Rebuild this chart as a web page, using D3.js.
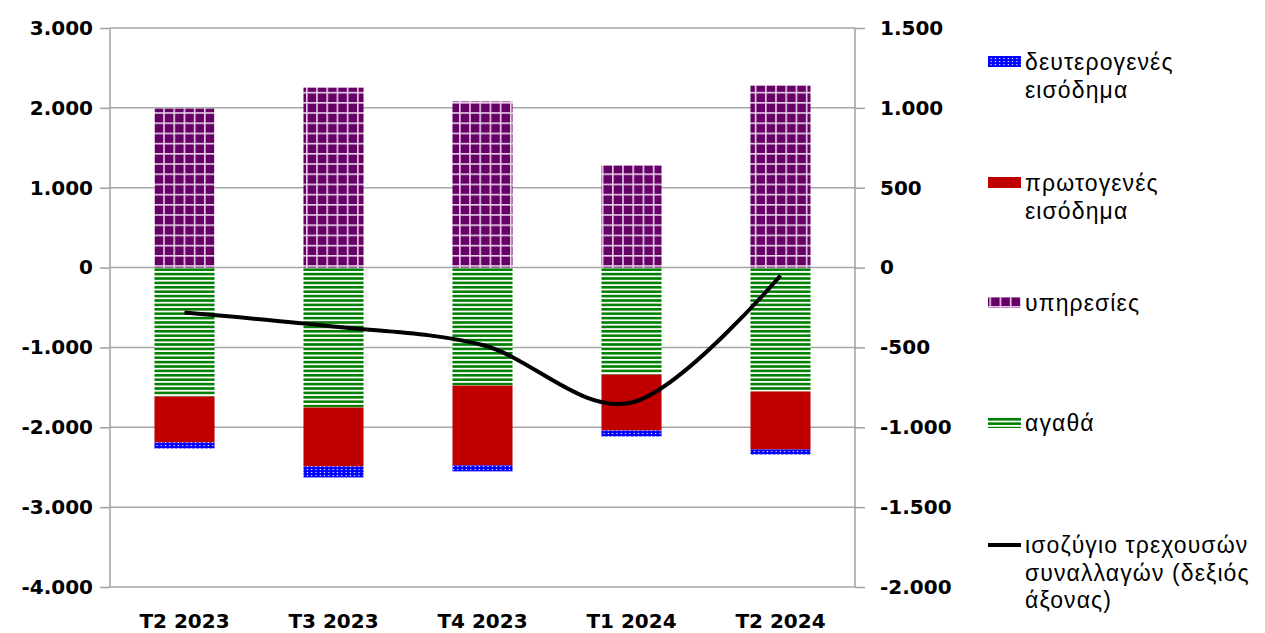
<!DOCTYPE html>
<html><head><meta charset="utf-8">
<script src="https://cdn.jsdelivr.net/npm/d3@7"></script>
<style>body{margin:0;background:#fff}svg{display:block}</style>
</head><body>
<script>
const categories = ["Τ2 2023","Τ3 2023","Τ4 2023","Τ1 2024","Τ2 2024"];
const goods      = [-1615,-1752,-1477,-1340,-1552];
const primary    = [-575,-738,-1000,-700,-726];
const secondary  = [-75,-138,-75,-75,-62];
const services   = [1990,2253,2080,1277,2278];
const currentAccount = [-282,-369,-485,-845,-50];
const leftTicks  = [3000,2000,1000,0,-1000,-2000,-3000,-4000];
const rightTicks = [1500,1000,500,0,-500,-1000,-1500,-2000];
const seriesNames = {
  secondary:["δευτερογενές","εισόδημα"],
  primary:["πρωτογενές","εισόδημα"],
  services:["υπηρεσίες"],
  goods:["αγαθά"],
  line:["ισοζύγιο τρεχουσών","συναλλαγών (δεξιός","άξονας)"]
};

const W=1265,H=633;
const m={top:28,bottom:587,left:110,right:855};
const svg=d3.select("body").append("svg").attr("width",W).attr("height",H);
const loc=d3.formatLocale({decimal:",",thousands:".",grouping:[3],currency:["","€"],minus:"-"});
const fmt=loc.format(",d");

const x=d3.scaleBand().domain(categories).range([m.left,m.right]).paddingInner(0.597).paddingOuter(0.2985);
const yL=d3.scaleLinear().domain([-4000,3000]).range([m.bottom,m.top]);
const yR=d3.scaleLinear().domain([-2000,1500]).range([m.bottom,m.top]);

// patterns
const defs=svg.append("defs");
const pS=defs.append("pattern").attr("id","pServices").attr("patternUnits","userSpaceOnUse").attr("width",10.2).attr("height",10.2);
pS.append("rect").attr("width",10.2).attr("height",10.2).attr("fill","#e8cfe8");
pS.append("rect").attr("x",1.6).attr("y",1.6).attr("width",8.6).attr("height",8.6).attr("fill","#660066");
const pG=defs.append("pattern").attr("id","pGoods").attr("patternUnits","userSpaceOnUse").attr("width",8).attr("height",4.4);
pG.append("rect").attr("width",8).attr("height",4.4).attr("fill","#ffffff");
pG.append("rect").attr("y",0).attr("width",8).attr("height",2.6).attr("fill","#008000");
const pB=defs.append("pattern").attr("id","pSecondary").attr("patternUnits","userSpaceOnUse").attr("width",4.3).attr("height",3);
pB.append("rect").attr("width",4.3).attr("height",3).attr("fill","#0000ff");
pB.append("rect").attr("x",1.5).attr("y",1).attr("width",1.2).attr("height",1.1).attr("fill","#ffffff");
const fills={goods:"url(#pGoods)",primary:"#c00000",secondary:"url(#pSecondary)",services:"url(#pServices)"};

// gridlines
svg.append("g").selectAll("line").data(leftTicks).join("line")
  .attr("x1",m.left).attr("x2",m.right).attr("y1",d=>yL(d)).attr("y2",d=>yL(d))
  .attr("stroke","#a6a6a6").attr("stroke-width",1.5);

// bars
const rows=categories.map((c,i)=>({cat:c,goods:goods[i],primary:primary[i],secondary:secondary[i],services:services[i]}));
const keys=["goods","primary","secondary","services"];
const stack=d3.stack().keys(keys).offset(d3.stackOffsetDiverging)(rows);
svg.append("g").selectAll("g").data(stack).join("g").attr("fill",d=>fills[d.key])
  .selectAll("rect").data(d=>d).join("rect")
  .attr("x",d=>x(d.data.cat)).attr("width",x.bandwidth())
  .attr("y",d=>yL(Math.max(d[0],d[1]))).attr("height",d=>Math.abs(yL(d[0])-yL(d[1])));

// axes
const axL=svg.append("g").attr("transform",`translate(${m.left},0)`)
  .call(d3.axisLeft(yL).tickValues(leftTicks).tickFormat(fmt).tickSize(10).tickPadding(7));
const axR=svg.append("g").attr("transform",`translate(${m.right},0)`)
  .call(d3.axisRight(yR).tickValues(rightTicks).tickFormat(fmt).tickSize(10).tickPadding(15));
[axL,axR].forEach(a=>{
  a.selectAll("path,line").attr("stroke","#a0a0a0").attr("stroke-width",1.5);
  a.select(".domain").attr("d",`M0,${m.top}V${m.bottom}`);
  a.selectAll("text").attr("font-family","DejaVu Sans").attr("font-weight","bold").attr("font-size",20).attr("fill","#000");
});
const axB=svg.append("g").attr("transform",`translate(0,${m.bottom})`)
  .call(d3.axisBottom(x).tickSize(0).tickPadding(27));
axB.select(".domain").remove();
axB.selectAll("text").attr("font-family","DejaVu Sans").attr("font-weight","bold").attr("font-size",20).attr("fill","#000");

// line
const line=d3.line().x((d,i)=>x(categories[i])+x.bandwidth()/2).y(d=>yR(d)).curve(d3.curveCardinal.tension(0));
svg.append("path").datum(currentAccount).attr("d",line).attr("fill","none").attr("stroke","#000").attr("stroke-width",4);

// legend
const legend=[
  {k:"secondary",y:62},{k:"primary",y:183},{k:"services",y:303},{k:"goods",y:423},{k:"line",y:545}
];
const lg=svg.append("g");
legend.forEach(it=>{
  if(it.k==="line"){
    lg.append("line").attr("x1",988).attr("x2",1021).attr("y1",it.y).attr("y2",it.y).attr("stroke","#000").attr("stroke-width",4);
  } else {
    lg.append("rect").attr("x",988).attr("y",it.y-6).attr("width",33).attr("height",11).attr("fill",fills[it.k]);
  }
  const t=lg.append("text").attr("x",1025).attr("y",it.y).attr("font-family","Liberation Sans").attr("font-size",23)
    .attr("letter-spacing",1.1).attr("fill","#000");
  seriesNames[it.k].forEach((s,j)=>{
    t.append("tspan").attr("x",1025).attr("y",it.y+j*27.5).attr("dy","0.35em").text(s);
  });
});
</script>
</body></html>
